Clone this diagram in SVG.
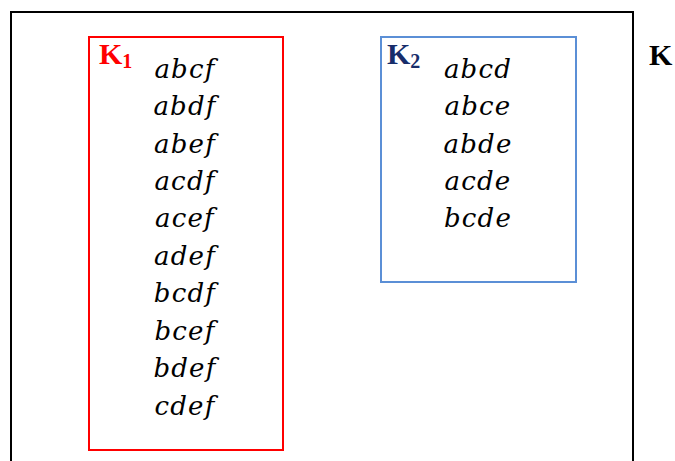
<svg xmlns="http://www.w3.org/2000/svg" width="675" height="461" viewBox="0 0 675 461">
  <style>
    .frame { fill: none; stroke-width: 2; }
    .item { font-family: "DejaVu Serif", "Liberation Serif", serif; font-style: italic; font-size: 26px; fill: #000; text-anchor: middle; letter-spacing: 1.2px; }
    .lbl { font-family: "Liberation Serif", serif; font-weight: bold; font-size: 30px; }
    .sub { font-size: 20px; }
  </style>
  <rect width="675" height="461" fill="#fff"/>

  <g id="K">
    <path class="frame" stroke="#000" d="M11,470 V12 H633 V470"/>
    <text class="lbl" x="649" y="65" fill="#000">K</text>
  </g>

  <g id="K1">
    <rect class="frame" stroke="#ff0000" x="89" y="37" width="194" height="413"/>
    <text class="lbl" x="99" y="64" fill="#ff0000">K<tspan class="sub" dy="4">1</tspan></text>
    <text class="item" x="185" y="78">abcf</text>
    <text class="item" x="185" y="115">abdf</text>
    <text class="item" x="185" y="153">abef</text>
    <text class="item" x="185" y="190">acdf</text>
    <text class="item" x="185" y="227">acef</text>
    <text class="item" x="185" y="265">adef</text>
    <text class="item" x="185" y="302">bcdf</text>
    <text class="item" x="185" y="340">bcef</text>
    <text class="item" x="185" y="377">bdef</text>
    <text class="item" x="185" y="415">cdef</text>
  </g>

  <g id="K2">
    <rect class="frame" stroke="#5b8fd6" x="381" y="37" width="195" height="245"/>
    <text class="lbl" x="387" y="64" fill="#172d6b">K<tspan class="sub" dy="4">2</tspan></text>
    <text class="item" x="478" y="78">abcd</text>
    <text class="item" x="478" y="115">abce</text>
    <text class="item" x="478" y="153">abde</text>
    <text class="item" x="478" y="190">acde</text>
    <text class="item" x="478" y="227">bcde</text>
  </g>

  <g id="connectors"></g>
</svg>
